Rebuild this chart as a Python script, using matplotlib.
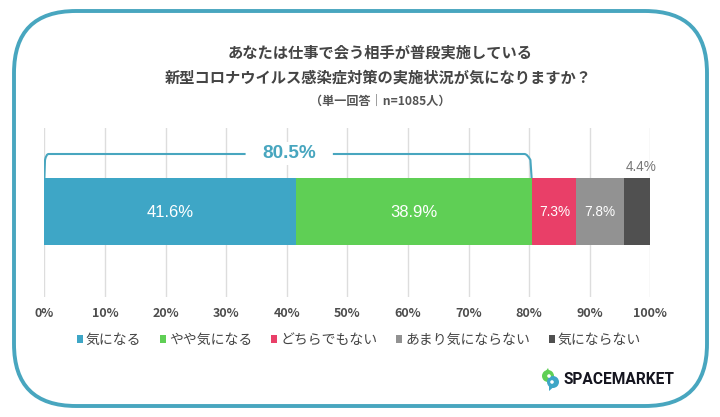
import matplotlib
matplotlib.use('Agg')
import matplotlib.pyplot as plt
from matplotlib.patches import FancyBboxPatch, Circle, Polygon
from matplotlib.path import Path
from matplotlib.patches import PathPatch

plt.rcParams['font.family'] = ['Noto Sans CJK JP', 'DejaVu Sans']

categories = ['気になる', 'やや気になる', 'どちらでもない', 'あまり気にならない', '気にならない']
values = [41.6, 38.9, 7.3, 7.8, 4.4]
colors = ['#3ea6c6', '#5fcf55', '#e93f68', '#929292', '#505050']
label_colors = ['white', 'white', 'white', 'white', '#777777']
ticks = [0, 10, 20, 30, 40, 50, 60, 70, 80, 90, 100]
total_label = '80.5%'
W, H = 720, 417
teal = '#48a6bf'
num_font = ['Liberation Sans', 'DejaVu Sans']

fig = plt.figure(figsize=(W / 100, H / 100), dpi=100)

# overlay in pixel coordinates for frame, logo
bg = fig.add_axes([0, 0, 1, 1])
bg.set_xlim(0, W)
bg.set_ylim(H, 0)
bg.axis('off')
frame = FancyBboxPatch((14 + 62, 11 + 62), 693 - 124, 395 - 124,
                       boxstyle='round,pad=62,rounding_size=62',
                       fc='white', ec=teal, lw=2.8)
bg.add_patch(frame)

bg.text(380.5, 52, 'あなたは仕事で会う相手が普段実施している', ha='center', va='center',
        fontsize=11, fontweight='bold', color='#444444')
bg.text(378, 78, '新型コロナウイルス感染症対策の実施状況が気になりますか？', ha='center', va='center',
        fontsize=11, fontweight='bold', color='#444444')
bg.text(380, 101, '（単一回答｜n=1085人）', ha='center', va='center',
        fontsize=8.7, fontweight='bold', color='#555555')

# main chart
ax = fig.add_axes([44.4 / W, 1 - 297 / H, 606 / W, (297 - 128) / H])
ax.patch.set_alpha(0)
ax.set_xlim(0, 100)
ax.set_ylim(297, 128)
ax.set_xticks(ticks)
ax.set_xticklabels([f'{t}%' for t in ticks], fontsize=9, fontweight='bold', color='#4d4d4d')
ax.set_yticks([])
ax.tick_params(axis='x', length=0, pad=7)
ax.grid(axis='x', color='#dddddd', lw=1)
ax.set_axisbelow(True)
for s in ax.spines.values():
    s.set_visible(False)

left = 0
for name, v, c, lc in zip(categories, values, colors, label_colors):
    ax.barh(211.5, v, height=67, left=left, color=c, label=name)
    if lc == 'white':
        ax.text(left + v / 2, 212, f'{v}%', ha='center', va='center', family=num_font,
                color=lc, fontsize=12 if v > 20 else 9.8)
    else:
        # small segment, label sits above the bar
        ax.text(left + v / 2 + 0.6, 167, f'{v}%', ha='center', va='center', family=num_font,
                color=lc, fontsize=9.8)
    left += v

# bracket over the first two bars
top2 = values[0] + values[1]
ax.add_patch(PathPatch(Path([(0, 178), (0.1, 160), (0.3, 154), (0.7, 154), (33.2, 154)],
                            [Path.MOVETO, Path.LINETO, Path.CURVE3, Path.CURVE3, Path.LINETO]),
                       fc='none', ec=teal, lw=1.5))
ax.add_patch(PathPatch(Path([(47.6, 154), (79.2, 154), (79.7, 154), (top2 - 0.3, 160), (top2 - 0.1, 178)],
                            [Path.MOVETO, Path.LINETO, Path.CURVE3, Path.CURVE3, Path.LINETO]),
                       fc='none', ec=teal, lw=1.5))
ax.text(40.4, 153.5, total_label, ha='center', va='center', color=teal, fontsize=13.7,
        family=num_font, fontweight='bold', bbox=dict(fc='white', ec='none', pad=2))

handles, labels = ax.get_legend_handles_labels()
fig.legend(handles, labels, loc='center', bbox_to_anchor=(359 / W, 1 - 340 / H), ncol=5, frameon=False,
           fontsize=10, labelcolor='#444444', handlelength=0.45, handleheight=0.45,
           handletextpad=0.2, columnspacing=1.35, borderpad=0)

# logo
fg = fig.add_axes([0, 0, 1, 1])
fg.set_xlim(0, W)
fg.set_ylim(H, 0)
fg.axis('off')
fg.add_patch(Polygon([[543, 375], [551, 376], [548, 368]], fc='#5fcf55', ec='none'))
fg.add_patch(Circle((548, 376), 6, fc='#5fcf55', ec='none'))
fg.add_patch(Polygon([[549, 384], [557, 384], [549, 391]], fc='#3ea6c6', ec='none'))
fg.add_patch(Circle((553, 382), 6, fc='#3ea6c6', ec='none'))
fg.add_patch(Circle((549, 376), 1.8, fc='white', ec='none'))
fg.add_patch(Circle((552, 382), 1.8, fc='white', ec='none'))
fg.text(563, 379, 'SPACEMARKET', ha='left', va='center', fontsize=11.2, fontweight='bold',
        color='#15151f', family=['Roboto', 'DejaVu Sans'])

fig.savefig('out.png', dpi=100)
